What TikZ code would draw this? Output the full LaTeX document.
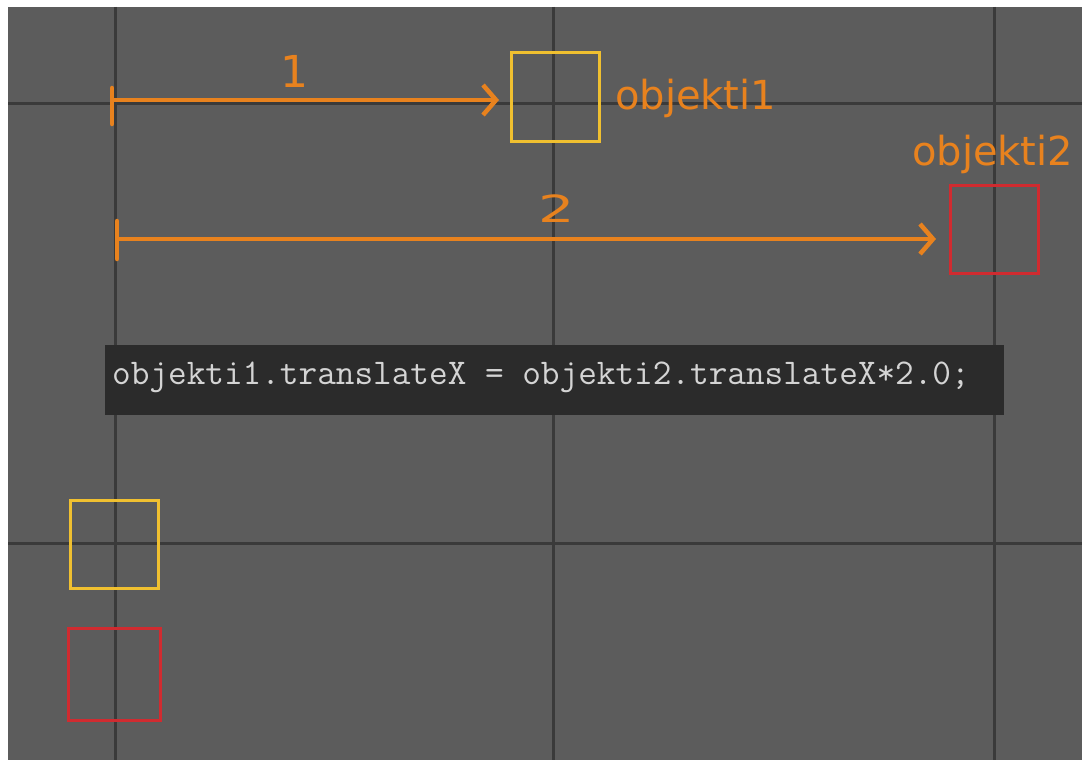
\documentclass[tikz,border=0pt]{standalone}
\usepackage{fontspec}
\setmainfont{DejaVu Sans}
\usetikzlibrary{arrows.meta}
\definecolor{bgray}{HTML}{5C5C5C}
\definecolor{gridc}{HTML}{3A3A3A}
\definecolor{orng}{HTML}{E8821E}
\definecolor{ylw}{HTML}{F0C030}
\definecolor{rdc}{HTML}{D02B30}
\definecolor{codebg}{HTML}{2B2B2B}
\definecolor{codefg}{HTML}{D4D4D4}
\tikzset{
  gridline/.style={draw=gridc, line width=3pt},
  objbox/.style={draw, line width=3pt, minimum width=88pt, minimum height=88pt, inner sep=0pt},
  meas/.style={draw=orng, line width=4.5pt, -{Straight Barb[length=13pt,width=30pt,line width=4.5pt]}},
  tick/.style={draw=orng, line width=4.5pt, line cap=round},
  lbl/.style={text=orng, font=\fontsize{40}{44}\selectfont, inner sep=0pt},
  numlbl/.style={text=orng, font=\fontsize{44}{48}\selectfont, inner sep=0pt},
}
\begin{document}
\begin{tikzpicture}[x=1pt,y=-1pt]
\useasboundingbox (0,0) rectangle (1082,760);
\fill[white] (0,0) rectangle (1082,760);
\fill[bgray] (8,7) rectangle (1082,760);
% grid
\draw[gridline] (115,7) -- (115,760);
\draw[gridline] (553,7) -- (553,760);
\draw[gridline] (994,7) -- (994,760);
\draw[gridline] (8,103) -- (1082,103);
\draw[gridline] (8,543) -- (1082,543);
% objects
\node[objbox, draw=ylw] (o1) at (555,97) {};
\node[objbox, draw=rdc] (o2) at (994,229) {};
\node[objbox, draw=ylw] (o1b) at (114,544) {};
\node[objbox, draw=rdc, minimum width=92pt, minimum height=92pt] (o2b) at (114,674) {};
% labels
\node[lbl, anchor=base west] (l1) at (615,110) {objekti1};
\node[lbl, anchor=base west] (l2) at (912,165) {objekti2};
% measurement arrows
\coordinate (s1) at (112,100);
\coordinate (e1) at (499,100);
\draw[tick] (112,88) -- (112,124);
\draw[meas] (s1) -- (e1);
\node[numlbl] (n1) at (294,71) {1};
\coordinate (s2) at (117,239);
\coordinate (e2) at (936,239);
\draw[tick] (117,221) -- (117,259);
\draw[meas] (s2) -- (e2);
\node[numlbl, xscale=1.3, yscale=0.85] (n2) at (557,209) {2};
% code
\fill[codebg] (105,345) rectangle (1004,415);
\node[anchor=base west, inner sep=0pt, text=codefg, font=\ttfamily\fontsize{36.2}{39}\selectfont] (code) at (112,384) {objekti1.translateX = objekti2.translateX*2.0;};
\end{tikzpicture}
\end{document}
